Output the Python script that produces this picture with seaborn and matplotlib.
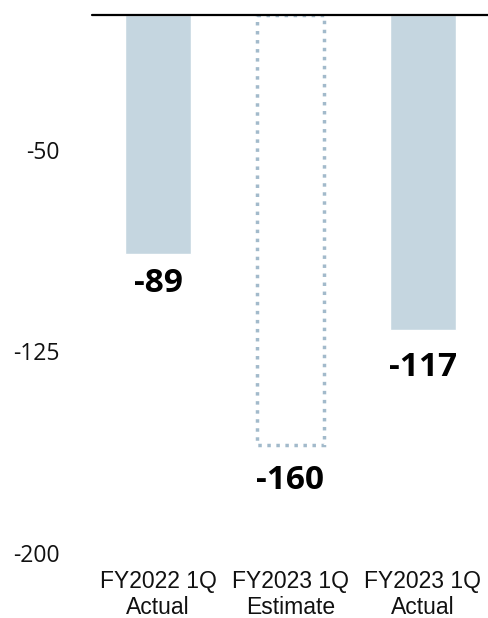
import matplotlib
matplotlib.use("Agg")
import matplotlib.pyplot as plt
import seaborn as sns
import pandas as pd

# ── data ─────────────────────────────────────────────
categories = ["FY2022 1Q\nActual", "FY2023 1Q\nEstimate", "FY2023 1Q\nActual"]
values = [-89, -160, -117]
value_labels = ["-89", "-160", "-117"]
y_ticks = [-50, -125, -200]

BAR_COLOR = "#C5D6E0"
DOT_COLOR = "#A2BACB"

df = pd.DataFrame({"period": categories, "value": values})

sns.set_style("white")
plt.rcParams["font.family"] = ["Open Sans", "DejaVu Sans"]

fig = plt.figure(figsize=(4.89, 6.18), dpi=100)
ax = fig.add_axes([0.188, 0.1052, 0.812, 0.8705])

sns.barplot(data=df, x="period", y="value", color=BAR_COLOR,
            saturation=1, width=0.5, ax=ax)

# estimate bar: outline only, dotted
est = ax.patches[1]
est.set_facecolor("none")
est.set_edgecolor(DOT_COLOR)
est.set_linestyle((0, (1, 1.6)))
est.set_linewidth(2.5)

ax.set_ylim(-200, 0)
ax.set_xlim(-0.5, 2.5)
ax.axhline(0, color="black", linewidth=1.6, clip_on=False, zorder=5)

# value labels under each bar
label_gap = [10.8, 13.2, 13.9]
for i, (v, txt) in enumerate(zip(values, value_labels)):
    ax.text(i, v - label_gap[i], txt, ha="center", va="center",
            fontsize=24, fontweight="bold", color="black")

ax.set_yticks(y_ticks)
ax.set_yticklabels([str(t) for t in y_ticks], fontsize=16.5, color="#111111")
ax.tick_params(axis="y", length=0, pad=23)
ax.tick_params(axis="x", length=0, pad=12)
for lab in ax.get_xticklabels():
    lab.set_fontfamily(["Liberation Sans", "DejaVu Sans"])
    lab.set_fontsize(16.5)
    lab.set_color("#111111")
    lab.set_linespacing(1.2)

ax.set_xlabel("")
ax.set_ylabel("")
sns.despine(ax=ax, left=True, bottom=True, top=True, right=True)

fig.savefig("out.png", dpi=100)
